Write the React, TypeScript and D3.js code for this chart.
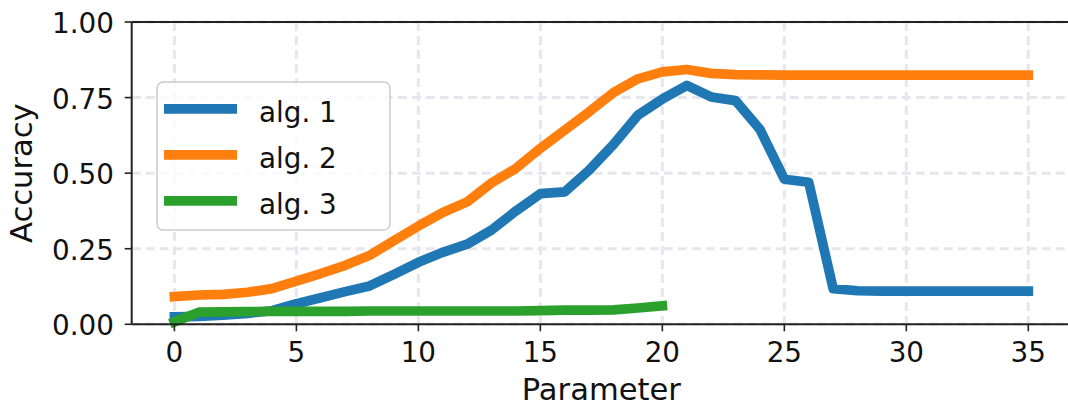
import React from "react";
import * as d3 from "d3";

const params = [0,1,2,3,4,5,6,7,8,9,10,11,12,13,14,15,16,17,18,19,20,21,22,23,24,25,26,27,28,29,30,31,32,33,34,35];
const alg1 = [0.025,0.026,0.03,0.036,0.045,0.068,0.088,0.108,0.127,0.165,0.205,0.238,0.265,0.312,0.375,0.432,0.438,0.51,0.595,0.692,0.745,0.79,0.752,0.74,0.645,0.48,0.47,0.118,0.111,0.11,0.11,0.11,0.11,0.11,0.11,0.11];
const alg2 = [0.092,0.097,0.099,0.106,0.118,0.143,0.168,0.195,0.228,0.277,0.325,0.37,0.405,0.468,0.516,0.582,0.642,0.703,0.767,0.812,0.835,0.843,0.83,0.826,0.825,0.824,0.824,0.824,0.824,0.824,0.824,0.824,0.824,0.824,0.824,0.824];
const alg3 = [0.008,0.04,0.041,0.042,0.043,0.043,0.043,0.043,0.044,0.044,0.044,0.044,0.044,0.044,0.044,0.045,0.047,0.047,0.048,0.054,0.061];
const seriesNames = ["alg. 1", "alg. 2", "alg. 3"];
const colors = ["#1f77b4", "#ff7f0e", "#2ca02c"];
const xTicks = [0,5,10,15,20,25,30,35];
const yTicks = [0,0.25,0.5,0.75,1.0];

const W = 1068, H = 405;
const left = 131.7, right = 1071, top = 22, bottom = 324.3;
const FONT = "DejaVu Sans";

export default function App() {
  const x = d3.scaleLinear().domain([-1.75, 36.75]).range([left, right]);
  const y = d3.scaleLinear().domain([0, 1]).range([bottom, top]);
  const allSeries = [alg1, alg2, alg3];
  const line = d3.line<[number, number]>().x(d => x(d[0])).y(d => y(d[1]));
  const gridColor = "#e6e6ee";
  return (
    <svg width={W} height={H} style={{ position: "absolute", left: 0, top: 0, background: "#fff" }} fontFamily={FONT}>
      {/* grid */}
      {xTicks.map(t => (
        <line key={"gx" + t} x1={x(t)} x2={x(t)} y1={top} y2={bottom} stroke={gridColor} strokeWidth={3} strokeDasharray="9,5" />
      ))}
      {yTicks.map(t => (
        <line key={"gy" + t} x1={left} x2={right} y1={y(t)} y2={y(t)} stroke={gridColor} strokeWidth={3} strokeDasharray="9,5" />
      ))}
      {/* lines */}
      {allSeries.map((s, i) => (
        <path key={"s" + i} d={line(s.map((v, j) => [params[j], v] as [number, number])) || ""} fill="none"
          stroke={colors[i]} strokeWidth={9.7} strokeLinejoin="round" strokeLinecap="square" />
      ))}
      {/* spines */}
      <line x1={left} x2={left} y1={top} y2={bottom} stroke="#222" strokeWidth={2} />
      <line x1={left} x2={right} y1={bottom} y2={bottom} stroke="#222" strokeWidth={2} />
      <line x1={left} x2={right} y1={top} y2={top} stroke="#222" strokeWidth={2} />
      {/* ticks */}
      {xTicks.map(t => (
        <g key={"xt" + t}>
          <line x1={x(t)} x2={x(t)} y1={bottom} y2={bottom + 7} stroke="#222" strokeWidth={1.6} />
          <text x={x(t)} y={362} textAnchor="middle" fontSize={27.8} fill="#111">{t}</text>
        </g>
      ))}
      {yTicks.map(t => (
        <g key={"yt" + t}>
          <line x1={left - 7} x2={left} y1={y(t)} y2={y(t)} stroke="#222" strokeWidth={1.6} />
          <text x={114} y={y(t) + 11} textAnchor="end" fontSize={27.8} fill="#111">{t.toFixed(2)}</text>
        </g>
      ))}
      {/* axis labels */}
      <text x={(left + right) / 2} y={400} textAnchor="middle" fontSize={30.6} fill="#111">Parameter</text>
      <text transform={`translate(32,${(top + bottom) / 2}) rotate(-90)`} textAnchor="middle" fontSize={30.6} fill="#111">Accuracy</text>
      {/* legend */}
      <rect x={157} y={82} width={233} height={148} rx={6} fill="#fff" fillOpacity={0.8} stroke="#cccccc" strokeWidth={1.5} />
      {seriesNames.map((n, i) => {
        const ly = 108.8 + i * 46;
        return (
          <g key={"lg" + i}>
            <line x1={164} x2={237} y1={ly} y2={ly} stroke={colors[i]} strokeWidth={9.7} />
            <text x={259} y={ly + 13.5} fontSize={27.8} fill="#111">{n}</text>
          </g>
        );
      })}
    </svg>
  );
}
